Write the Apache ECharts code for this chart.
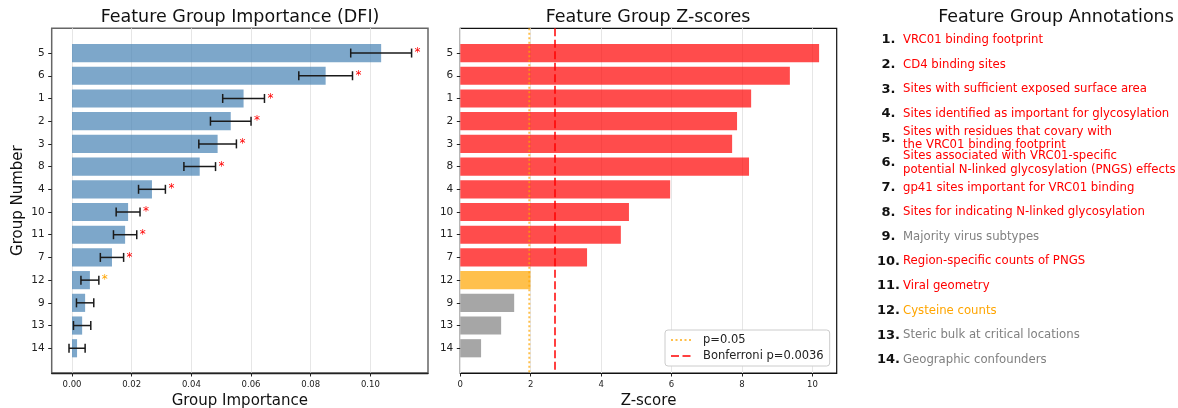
<!DOCTYPE html>
<html>
<head>
<meta charset="utf-8">
<script src="https://cdn.jsdelivr.net/npm/echarts@6/dist/echarts.min.js"></script>
<style>
  html, body { margin: 0; padding: 0; background: #ffffff; }
  #chart { width: 1178px; height: 408px; }
</style>
</head>
<body>
<div id="chart"></div>
<script>
// Feature groups, top to bottom, ranked by importance
const groupOrder = [5, 6, 1, 2, 3, 8, 4, 10, 11, 7, 12, 9, 13, 14];
// Drop-feature importance (DFI) of each group and its error
const dfiMean = [0.1036, 0.0850, 0.0575, 0.0532, 0.0488, 0.0428, 0.0268, 0.0188, 0.0178, 0.0134, 0.0060, 0.0044, 0.0034, 0.0017];
const dfiErr  = [0.0102, 0.0090, 0.0070, 0.0068, 0.0063, 0.0053, 0.0045, 0.0040, 0.0039, 0.0039, 0.0030, 0.0029, 0.0029, 0.0027];
// Z-score of each group (same order)
const zScores = [10.19, 9.36, 8.26, 7.86, 7.72, 8.20, 5.96, 4.79, 4.56, 3.60, 1.99, 1.53, 1.16, 0.59];
// Significance thresholds on the z scale
const zNominal = 1.96;     // p = 0.05
const zBonferroni = 2.69;  // Bonferroni p = 0.0036
const thresholdNames = ['p=0.05', 'Bonferroni p=0.0036'];
// Tick values
const dfiTicks = [0, 0.02, 0.04, 0.06, 0.08, 0.10];
const zTicks = [0, 2, 4, 6, 8, 10];
// Annotation of each feature group, by group number 1..14
const annotationTexts = [
  'VRC01 binding footprint',
  'CD4 binding sites',
  'Sites with sufficient exposed surface area',
  'Sites identified as important for glycosylation',
  'Sites with residues that covary with\nthe VRC01 binding footprint',
  'Sites associated with VRC01-specific\npotential N-linked glycosylation (PNGS) effects',
  'gp41 sites important for VRC01 binding',
  'Sites for indicating N-linked glycosylation',
  'Majority virus subtypes',
  'Region-specific counts of PNGS',
  'Viral geometry',
  'Cysteine counts',
  'Steric bulk at critical locations',
  'Geographic confounders'
];

const FONT = 'DejaVu Sans';
const Y_MIN = -1.09, Y_MAX = 14.09;
const X_DFI_MIN = -0.0068, X_DFI_MAX = 0.1193;
const X_Z_MAX = 10.69;

function levelOf(z) {
  if (z >= zBonferroni) return 'strong';
  if (z >= zNominal) return 'nominal';
  return 'none';
}
const barFill = { strong: 'rgba(255,0,0,0.7)', nominal: 'rgba(255,165,0,0.7)', none: 'rgba(128,128,128,0.7)' };
const starFill = { strong: '#ff0000', nominal: '#ffa500' };
const noteFill = { strong: '#ff0000', nominal: '#ffa500', none: '#808080' };

const rowIdx = groupOrder.map((g, i) => i);

function rectItem(fillFn) {
  return function (params, api) {
    const val = api.value(0), idx = api.value(1);
    const a = api.coord([0, idx]);
    const b = api.coord([val, idx]);
    const h = Math.abs(api.size([0, 0.8])[1]);
    return {
      type: 'rect',
      shape: { x: a[0], y: a[1] - h / 2, width: b[0] - a[0], height: h },
      style: { fill: fillFn(params.dataIndex) }
    };
  };
}

function errorItem(params, api) {
  const mean = api.value(0), idx = api.value(1), err = api.value(2);
  const lo = api.coord([mean - err, idx]);
  const hi = api.coord([mean + err, idx]);
  const cap = 4.5;
  const stroke = { stroke: '#1a1a1a', lineWidth: 1.5 };
  const children = [
    { type: 'line', shape: { x1: lo[0], y1: lo[1], x2: hi[0], y2: hi[1] }, style: stroke },
    { type: 'line', shape: { x1: lo[0], y1: lo[1] - cap, x2: lo[0], y2: lo[1] + cap }, style: stroke },
    { type: 'line', shape: { x1: hi[0], y1: hi[1] - cap, x2: hi[0], y2: hi[1] + cap }, style: stroke }
  ];
  const lvl = levelOf(zScores[params.dataIndex]);
  if (starFill[lvl]) {
    children.push({
      type: 'text',
      style: {
        x: hi[0] + 3, y: hi[1], text: '*', fill: starFill[lvl],
        font: '12px "' + FONT + '"', textAlign: 'left', textVerticalAlign: 'middle'
      }
    });
  }
  return { type: 'group', children: children };
}

const yAxisCommon = {
  type: 'value', inverse: true, min: Y_MIN, max: Y_MAX,
  axisLine: { show: false, onZero: false },
  splitLine: { show: false },
  axisTick: { show: true, customValues: rowIdx, length: 3.5, inside: false, lineStyle: { color: '#222', width: 1 } },
  axisLabel: {
    customValues: rowIdx, margin: 7, color: '#222', fontFamily: FONT, fontSize: 10.5,
    formatter: v => String(groupOrder[Math.round(v)])
  }
};

// Annotation panel: group number (bold) and description
const graphics = [];
annotationTexts.forEach((txt, i) => {
  const y = 40 + i * 24.6;
  const z = zScores[groupOrder.indexOf(i + 1)];
  graphics.push({
    type: 'text', x: 888.5, y: y,
    style: { text: (i + 1) + '.', fill: '#111', font: 'bold 13px "' + FONT + '"', textAlign: 'center', textVerticalAlign: 'middle' }
  });
  graphics.push({
    type: 'text', x: 903, y: y,
    style: { text: txt, fill: noteFill[levelOf(z)], font: '11.7px "' + FONT + '"', textAlign: 'left', textVerticalAlign: 'middle', lineHeight: 13.3 }
  });
});

const chart = echarts.init(document.getElementById('chart'), null, { renderer: 'canvas' });
chart.setOption({
  animation: false,
  backgroundColor: '#ffffff',
  textStyle: { fontFamily: FONT },
  title: [
    { text: 'Feature Group Importance (DFI)', left: 240, top: 8, textAlign: 'center', padding: 0,
      textStyle: { fontFamily: FONT, fontSize: 17.5, fontWeight: 'normal', color: '#111' } },
    { text: 'Feature Group Z-scores', left: 648, top: 8, textAlign: 'center', padding: 0,
      textStyle: { fontFamily: FONT, fontSize: 17.5, fontWeight: 'normal', color: '#111' } },
    { text: 'Feature Group Annotations', left: 1056, top: 8, textAlign: 'center', padding: 0,
      textStyle: { fontFamily: FONT, fontSize: 17.5, fontWeight: 'normal', color: '#111' } }
  ],
  legend: {
    data: thresholdNames,
    orient: 'vertical', left: 665, top: 330,
    padding: [4, 6, 4, 5], itemGap: 4,
    itemWidth: 22, itemHeight: 12,
    itemStyle: { color: 'rgba(0,0,0,0)', borderWidth: 0, opacity: 0 },
    backgroundColor: '#ffffff', borderColor: '#cccccc', borderWidth: 1, borderRadius: 3,
    textStyle: { fontFamily: FONT, fontSize: 11.5, color: '#222', padding: [0, 0, 0, 5] }
  },
  grid: [
    { left: 51.7, top: 28.3, width: 376.3, height: 344.7, outerBoundsMode: 'none', containLabel: false,
      show: true, borderColor: '#666', borderWidth: 1.5, backgroundColor: 'transparent' },
    { left: 460.3, top: 28.3, width: 376.4, height: 344.7, outerBoundsMode: 'none', containLabel: false,
      show: true, borderColor: '#111', borderWidth: 1.2, backgroundColor: 'transparent' }
  ],
  xAxis: [
    {
      gridIndex: 0, type: 'value', min: X_DFI_MIN, max: X_DFI_MAX,
      name: 'Group Importance', nameLocation: 'middle', nameGap: 20,
      nameTextStyle: { fontFamily: FONT, fontSize: 15, color: '#111' },
      axisLine: { show: true, onZero: false, lineStyle: { color: '#222', width: 1.3 } },
      axisTick: { show: true, customValues: dfiTicks, length: 3.5, lineStyle: { color: '#222' } },
      axisLabel: { customValues: dfiTicks, margin: 7, fontFamily: FONT, fontSize: 8.5, color: '#222', formatter: v => v.toFixed(2) },
      splitLine: { show: true, lineStyle: { color: '#e6e6e6', width: 1 } }
    },
    {
      gridIndex: 1, type: 'value', min: 0, max: X_Z_MAX, interval: 2,
      name: 'Z-score', nameLocation: 'middle', nameGap: 20,
      nameTextStyle: { fontFamily: FONT, fontSize: 15, color: '#111' },
      axisLine: { show: true, onZero: false, lineStyle: { color: '#111', width: 1.2 } },
      axisTick: { show: true, customValues: zTicks, length: 3.5, lineStyle: { color: '#222' } },
      axisLabel: { customValues: zTicks, margin: 7, fontFamily: FONT, fontSize: 8.5, color: '#222' },
      splitLine: { show: true, lineStyle: { color: '#e6e6e6', width: 1 } }
    }
  ],
  yAxis: [
    Object.assign({}, yAxisCommon, {
      gridIndex: 0, name: 'Group Number', nameLocation: 'middle', nameGap: 26, nameRotate: 90,
      nameTextStyle: { fontFamily: FONT, fontSize: 15, color: '#111' }
    }),
    Object.assign({}, yAxisCommon, { gridIndex: 1 })
  ],
  series: [
    {
      type: 'custom', xAxisIndex: 0, yAxisIndex: 0, z: 2,
      encode: { x: 0, y: 1 },
      data: dfiMean.map((v, i) => [v, i]),
      renderItem: rectItem(() => 'rgba(70,130,180,0.7)')
    },
    {
      type: 'custom', xAxisIndex: 0, yAxisIndex: 0, z: 3,
      encode: { x: 0, y: 1 },
      data: dfiMean.map((v, i) => [v, i, dfiErr[i]]),
      renderItem: errorItem
    },
    {
      type: 'custom', xAxisIndex: 1, yAxisIndex: 1, z: 2,
      encode: { x: 0, y: 1 },
      data: zScores.map((v, i) => [v, i]),
      renderItem: rectItem(i => barFill[levelOf(zScores[i])])
    },
    {
      name: thresholdNames[0], type: 'line', xAxisIndex: 1, yAxisIndex: 1, z: 4,
      symbol: 'none', silent: true,
      lineStyle: { color: 'rgba(255,165,0,0.7)', width: 2, type: [2, 2.5] },
      itemStyle: { color: 'rgba(255,165,0,0.7)' },
      data: [[zNominal, Y_MIN], [zNominal, Y_MAX]]
    },
    {
      name: thresholdNames[1], type: 'line', xAxisIndex: 1, yAxisIndex: 1, z: 4,
      symbol: 'none', silent: true,
      lineStyle: { color: 'rgba(255,0,0,0.75)', width: 2, type: [8, 3.5] },
      itemStyle: { color: 'rgba(255,0,0,0.75)' },
      data: [[zBonferroni, Y_MIN], [zBonferroni, Y_MAX]]
    }
  ],
  graphic: graphics
});
</script>
</body>
</html>
